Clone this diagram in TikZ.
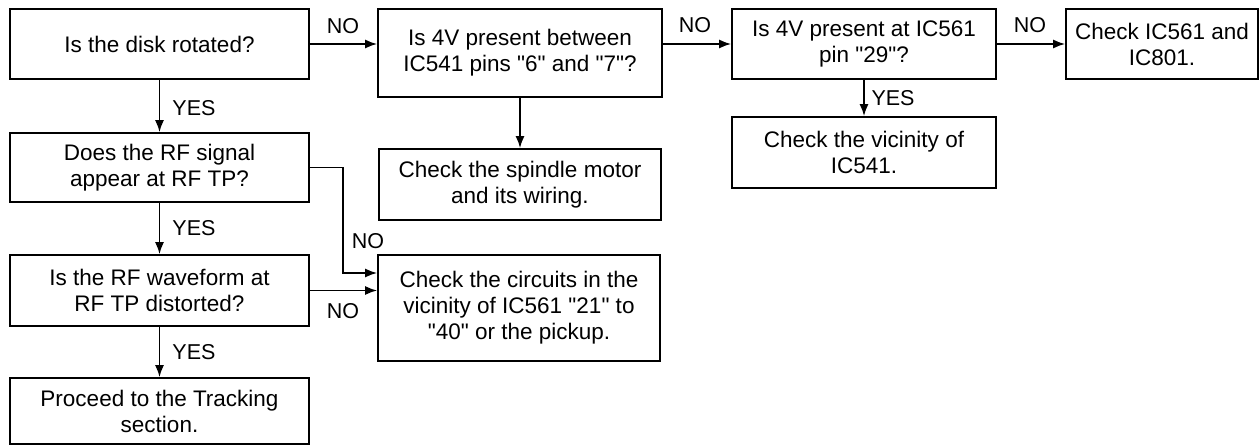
\documentclass[tikz,border=0pt]{standalone}
\usepackage{fontspec}
\setmainfont{Liberation Sans}
\usetikzlibrary{arrows.meta}
\newcommand{\dq}{\textquotedbl}
\begin{document}
\begin{tikzpicture}[x=1pt,y=-1pt,
  box/.style={draw,line width=1.8pt,align=center,inner sep=0pt,
    font=\fontsize{22.5}{26}\selectfont},
  arr/.style={line width=1.6pt,-{Latex[length=12pt,width=9pt]}},
  lbl/.style={font=\fontsize{21.5}{26}\selectfont,inner sep=0pt}]
\useasboundingbox (0,0) rectangle (1260,446);
\fill[white] (0,0) rectangle (1260,446);
\node[box,minimum width=299pt,minimum height=70pt] (A) at (159.5,44) {Is the disk rotated?};
\node[box,minimum width=299pt,minimum height=69pt] (B) at (159.5,167.5) {Does the RF signal\\appear at RF TP?};
\node[box,minimum width=299pt,minimum height=71pt] (C) at (159.5,290.5) {Is the RF waveform at\\RF TP distorted?};
\node[box,minimum width=299pt,minimum height=66pt] (D) at (159.5,411) {Proceed to the Tracking\\section.};
\node[box,minimum width=284pt,minimum height=88pt] (E) at (520,53) {Is 4V present between\\IC541 pins \dq6\dq{} and \dq7\dq?};
\node[box,minimum width=282pt,minimum height=71pt] (F) at (520,184.5) {Check the spindle motor\\and its wiring.};
\node[box,minimum width=282pt,minimum height=106pt] (G) at (519,308) {Check the circuits in the\\vicinity of IC561 \dq21\dq{} to\\\dq40\dq{} or the pickup.};
\node[box,minimum width=264pt,minimum height=70pt] (H) at (864,44) {Is 4V present at IC561\\pin \dq29\dq?};
\node[box,minimum width=264pt,minimum height=71pt] (I) at (864,152.5) {Check the vicinity of\\IC541.};
\node[box,minimum width=192pt,minimum height=70pt] (J) at (1162,44) {Check IC561 and\\IC801.};
\coordinate (k1) at (343,273);
\draw[arr] (A.east) -- (A.east -| E.west);
\draw[arr] (H.west -| E.east) -- (H.west);
\draw[arr] (H.east) -- (J.west);
\draw[arr] (A.south) -- (B.north);
\draw[arr] (B.south) -- (C.north);
\draw[arr] (C.south) -- (D.north);
\draw[arr] (E.south) -- (F.north);
\draw[arr] (H.south) -- (I.north);
\draw[arr] (B.east) -| (k1) -- (k1 -| G.west);
\draw[arr] (C.east) -- (C.east -| G.west);
\node[lbl] (n1) at (343,26) {NO};
\node[lbl] (n2) at (695,25) {NO};
\node[lbl] (n3) at (1030,25) {NO};
\node[lbl] (n4) at (368,241) {NO};
\node[lbl] (n5) at (343,311) {NO};
\node[lbl] (y1) at (194,108) {YES};
\node[lbl] (y2) at (194,228) {YES};
\node[lbl] (y3) at (194,352) {YES};
\node[lbl] (y4) at (893,98) {YES};
\end{tikzpicture}
\end{document}
